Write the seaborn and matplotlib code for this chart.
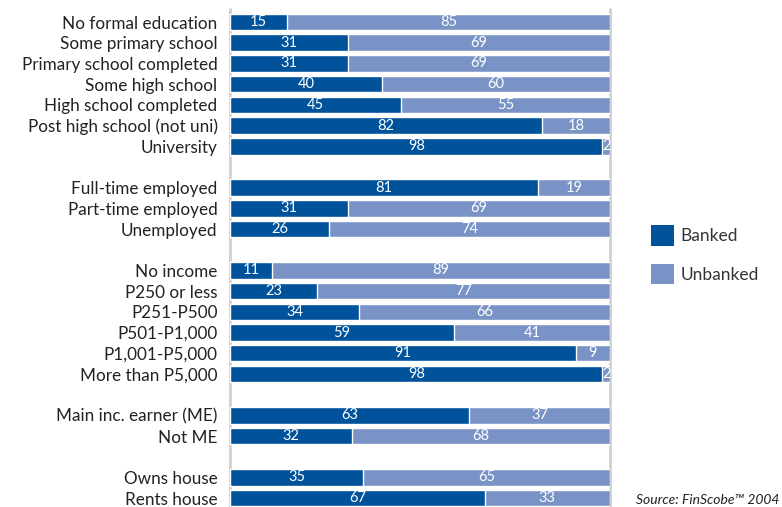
import numpy as np
import pandas as pd
import matplotlib
matplotlib.use("Agg")
import matplotlib.pyplot as plt
import seaborn as sns
from matplotlib.patches import Patch

# Data (% banked / unbanked), grouped by segment
education = ["No formal education", "Some primary school", "Primary school completed",
             "Some high school", "High school completed", "Post high school (not uni)", "University"]
education_banked = [15, 31, 31, 40, 45, 82, 98]
education_unbanked = [85, 69, 69, 60, 55, 18, 2]

employment = ["Full-time employed", "Part-time employed", "Unemployed"]
employment_banked = [81, 31, 26]
employment_unbanked = [19, 69, 74]

income = ["No income", "P250 or less", "P251-P500", "P501-P1,000", "P1,001-P5,000", "More than P5,000"]
income_banked = [11, 23, 34, 59, 91, 98]
income_unbanked = [89, 77, 66, 41, 9, 2]

earner = ["Main inc. earner (ME)", "Not ME"]
earner_banked = [63, 32]
earner_unbanked = [37, 68]

housing = ["Owns house", "Rents house"]
housing_banked = [35, 67]
housing_unbanked = [65, 33]

groups = [
    (education, education_banked, education_unbanked),
    (employment, employment_banked, employment_unbanked),
    (income, income_banked, income_unbanked),
    (earner, earner_banked, earner_unbanked),
    (housing, housing_banked, housing_unbanked),
]

# build one long table, leaving an empty row between groups
rows = []
pos = 0
for labels, banked, unbanked in groups:
    for lab, b, u in zip(labels, banked, unbanked):
        rows.append({"label": lab, "pos": pos, "Banked": b, "Unbanked": u})
        pos += 1
    pos += 1
df = pd.DataFrame(rows)
df["total"] = df["Banked"] + df["Unbanked"]
last = df["pos"].max()

dark = "#00529b"
light = "#7a93c6"

sns.set_theme(style="white")
plt.rcParams["font.family"] = ["Lato", "DejaVu Sans"]

fig = plt.figure(figsize=(7.82, 5.07), dpi=100)
ax = fig.add_axes([230 / 782, 0, 380 / 782, 498 / 507])

sns.barplot(data=df, x="total", y="pos", orient="h", native_scale=True,
            color=light, saturation=1, width=0.8, ax=ax, zorder=2)
sns.barplot(data=df, x="Banked", y="pos", orient="h", native_scale=True,
            color=dark, saturation=1, width=0.8, ax=ax, zorder=3)

# value labels
vfs = 10.5
for _, r in df.iterrows():
    ax.text(r["Banked"] / 2, r["pos"], str(r["Banked"]), color="white",
            ha="center", va="center", fontsize=vfs, zorder=4)
    if r["Unbanked"] <= 3:
        ax.text(100.3, r["pos"], str(r["Unbanked"]), color="white",
                ha="right", va="center", fontsize=vfs, zorder=4)
    else:
        ax.text(r["Banked"] + r["Unbanked"] / 2, r["pos"], str(r["Unbanked"]),
                color="white", ha="center", va="center", fontsize=vfs, zorder=4)

ax.set_xlim(0, 100)
ax.set_ylim(last + 0.43, -0.63)
ax.set_yticks(df["pos"])
ax.set_yticklabels(df["label"], fontsize=12.3, color="#222222")
ax.tick_params(axis="y", length=0, pad=9)
ax.set_xticks([])
ax.set_xlabel("")
ax.set_ylabel("")
for s in ax.spines.values():
    s.set_visible(False)

for xv in (0, 100):
    ax.axvline(xv, color="#d0d0d0", lw=2, zorder=1, clip_on=False)

handles = [Patch(facecolor=dark, edgecolor="none", label="Banked"),
           Patch(facecolor=light, edgecolor="none", label="Unbanked")]
fig.legend(handles=handles, loc="upper left", bbox_to_anchor=(651 / 782, 1 - 225 / 507),
           frameon=False, fontsize=12.5, handlelength=1.3, handleheight=1.45,
           handletextpad=0.4, labelspacing=1.05, borderpad=0, borderaxespad=0,
           labelcolor="#333333")

fig.text(636 / 782, 1 - 500 / 507, "Source: FinScobe™ 2004", fontsize=10,
         style="italic", color="#222222", va="center", ha="left")

fig.savefig("out.png", dpi=100)
